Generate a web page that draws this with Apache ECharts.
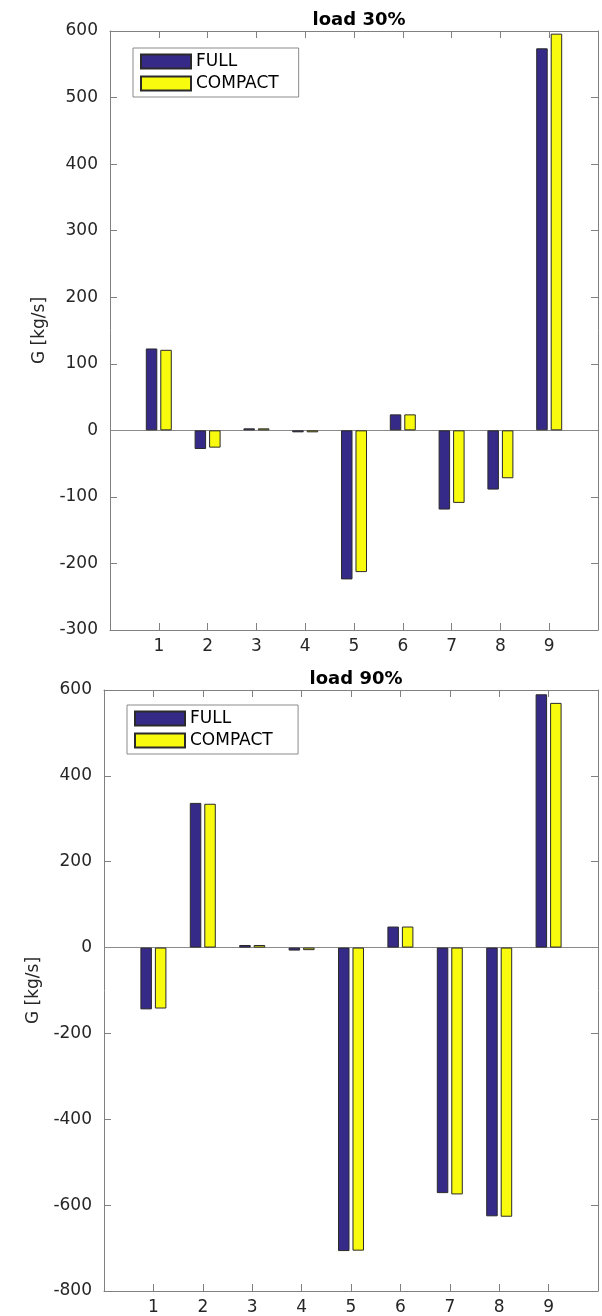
<!DOCTYPE html>
<html>
<head>
<meta charset="utf-8">
<script src="https://cdn.jsdelivr.net/npm/echarts@6/dist/echarts.min.js"></script>
<style>
html,body{margin:0;padding:0;background:#fff;}
#c{width:602px;height:1316px;}
</style>
</head>
<body>
<div id="c"></div>
<script>
var categories = ['1','2','3','4','5','6','7','8','9'];
var full30    = [123, -28, 3, -3, -224, 24, -119, -89, 574];
var compact30 = [121, -26, 3, -3, -213, 24, -109, -72, 596];
var full90    = [-144, 337, 6, -7, -707, 49, -572, -626, 590];
var compact90 = [-142, 335, 6, -6, -706, 49, -575, -627, 570];
var yTicks30 = {min: -300, max: 600, interval: 100};
var yTicks90 = {min: -800, max: 600, interval: 200};

var FONT = 'DejaVu Sans';
var AX = '#808080';
var xData = [''].concat(categories).concat(['']);
function pad(a){ return [null].concat(a).concat([null]); }

function xAxes(gi){
  return [{
    type:'category', gridIndex:gi, data:xData, boundaryGap:false, position:'bottom',
    axisLine:{onZero:false, lineStyle:{color:AX}},
    axisTick:{inside:true, length:7, lineStyle:{color:AX}},
    axisLabel:{color:'#262626', fontFamily:FONT, fontSize:17, margin:8},
    splitLine:{show:false}
  },{
    type:'category', gridIndex:gi, data:xData, boundaryGap:false, position:'top',
    axisLine:{onZero:false, lineStyle:{color:AX}},
    axisTick:{inside:true, length:7, lineStyle:{color:AX}},
    axisLabel:{show:false}, splitLine:{show:false}
  }];
}
function yAxes(gi, t, gap){
  return [{
    type:'value', gridIndex:gi, min:t.min, max:t.max, interval:t.interval, position:'left',
    name:'G [kg/s]', nameLocation:'middle', nameGap:gap,
    nameTextStyle:{color:'#262626', fontFamily:FONT, fontSize:17},
    axisLine:{show:true, lineStyle:{color:AX}},
    axisTick:{show:true, inside:true, length:7, lineStyle:{color:AX}},
    axisLabel:{color:'#262626', fontFamily:FONT, fontSize:17, margin:12},
    splitLine:{show:false}
  },{
    type:'value', gridIndex:gi, min:t.min, max:t.max, interval:t.interval, position:'right',
    axisLine:{show:true, lineStyle:{color:AX}},
    axisTick:{show:true, inside:true, length:7, lineStyle:{color:AX}},
    axisLabel:{show:false}, splitLine:{show:false}
  }];
}
function bar(name, data, gi, color, zero){
  var s = {
    name:name, type:'bar', xAxisIndex:gi*2, yAxisIndex:gi*2, data:pad(data),
    barWidth:11.5, barGap:'26%',
    itemStyle:{color:color, borderColor:'#2a2a2a', borderWidth:1},
    emphasis:{disabled:true}
  };
  if(zero){
    s.markLine = {silent:true, symbol:'none', label:{show:false},
      lineStyle:{color:'#8a8a8a', type:'solid', width:1}, data:[{yAxis:0}], z:1};
  }
  return s;
}
var legendBase = {
  orient:'vertical', icon:'rect', itemWidth:50, itemHeight:14, itemGap:5, padding:[5,20,5,7],
  borderColor:'#8a8a8a', borderWidth:1, backgroundColor:'#fff',
  textStyle:{color:'#000', fontFamily:FONT, fontSize:17}
};
var FULLC = '#352a87', COMPC = '#f9fb0e';

var option = {
  animation:false,
  title:[
    {text:'load 30%', left:354, top:6, textAlign:'center',
     textStyle:{fontFamily:FONT, fontSize:18, fontWeight:'bold', color:'#000'}},
    {text:'load 90%', left:351, top:665, textAlign:'center',
     textStyle:{fontFamily:FONT, fontSize:18, fontWeight:'bold', color:'#000'}}
  ],
  grid:[
    {left:110, top:31, width:488, height:599},
    {left:104, top:690, width:494, height:602}
  ],
  legend:[
    Object.assign({}, legendBase, {left:133, top:48, data:['FULL','COMPACT']}),
    Object.assign({}, legendBase, {left:127, top:705, data:['FULL ','COMPACT ']})
  ],
  xAxis: xAxes(0).concat(xAxes(1)),
  yAxis: yAxes(0, yTicks30, 61).concat(yAxes(1, yTicks90, 62)),
  series:[
    bar('FULL', full30, 0, FULLC, true),
    bar('COMPACT', compact30, 0, COMPC, false),
    bar('FULL ', full90, 1, FULLC, true),
    bar('COMPACT ', compact90, 1, COMPC, false)
  ]
};
var chart = echarts.init(document.getElementById('c'), null, {renderer:'canvas'});
chart.setOption(option);
</script>
</body>
</html>
